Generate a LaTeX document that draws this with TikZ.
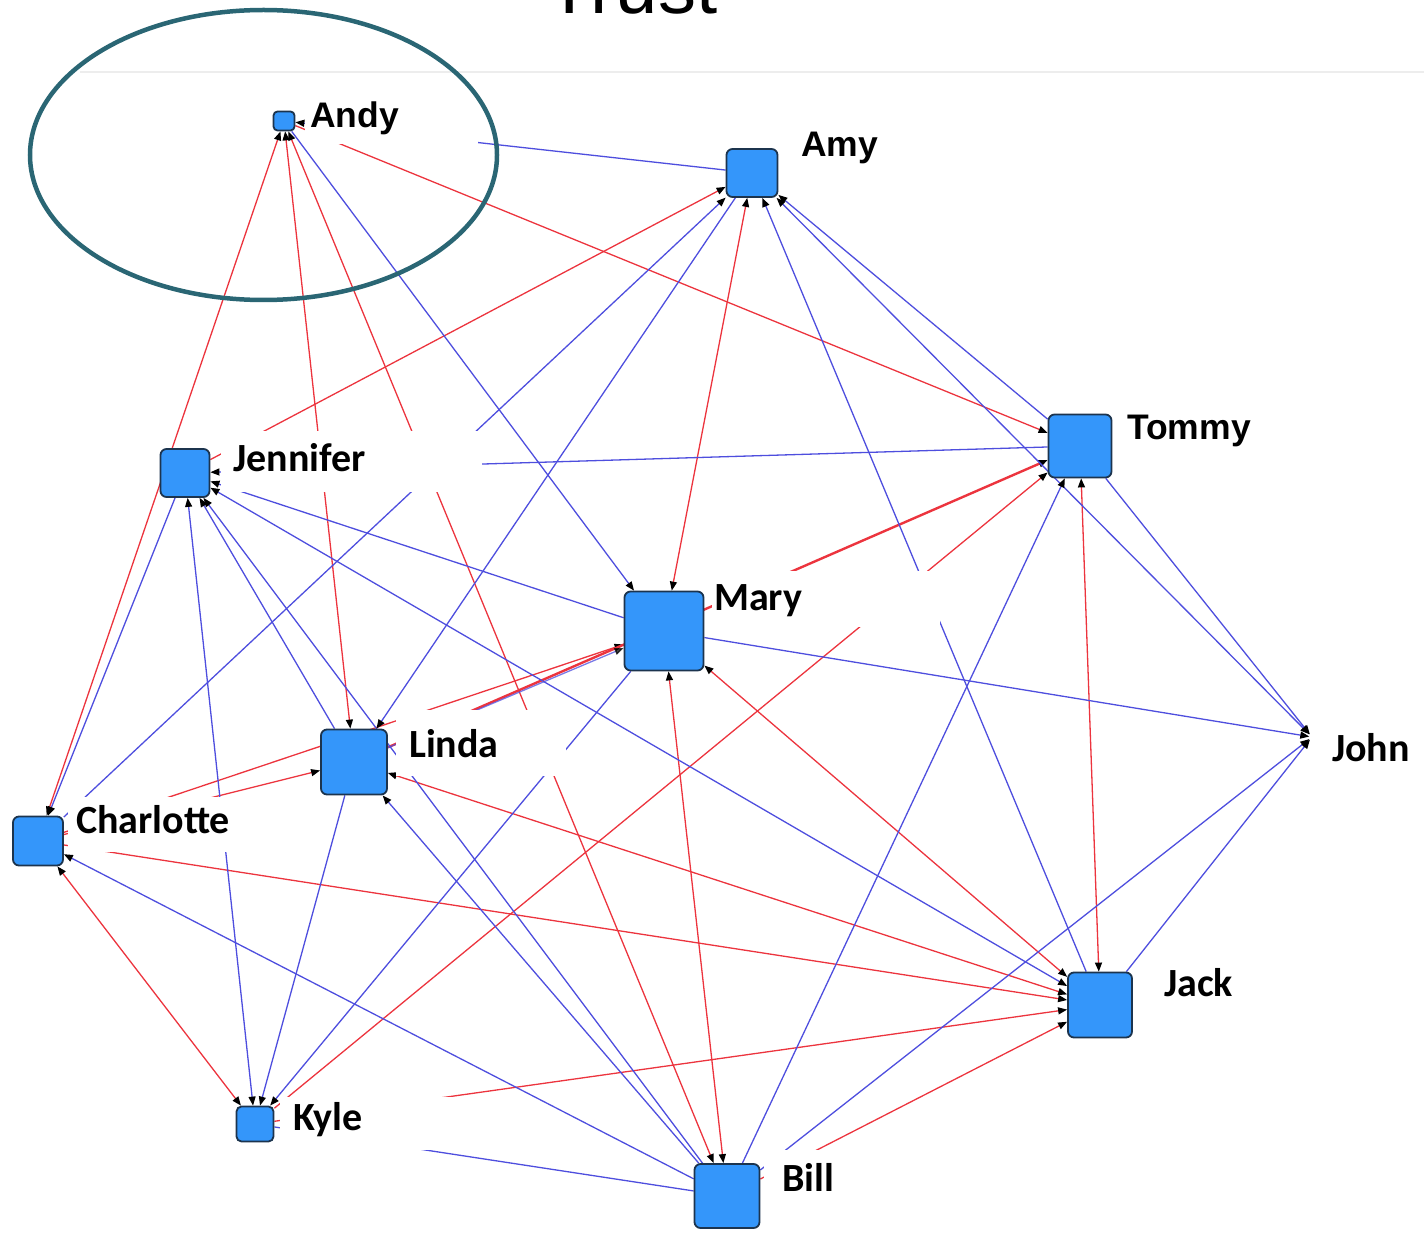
\documentclass[tikz,border=0pt]{standalone}
\usepackage{fontspec}
\setmainfont{Liberation Sans}
\newfontfamily\calibrifont{Carlito}
\usetikzlibrary{arrows.meta}

% drawing order: ties at the bottom, white label masks above them, actors and text on top
\pgfdeclarelayer{ties}
\pgfdeclarelayer{masks}
\pgfsetlayers{ties,masks,main}

\definecolor{tiered}{RGB}{236,52,62}
\definecolor{tieblue}{RGB}{78,78,222}
\definecolor{actorfill}{RGB}{52,150,250}
\definecolor{actorline}{RGB}{28,52,78}
\definecolor{ringteal}{RGB}{42,102,116}

\tikzset{
  actor/.style={draw=actorline, line width=1.8pt, fill=actorfill, rounded corners=6pt, inner sep=0pt},
  tie/.style={line width=1.3pt, >={Triangle[length=9pt,width=7pt,color=black]}},
  rtie/.style={tie, draw=tiered},
  btie/.style={tie, draw=tieblue},
  mask/.style={fill=white},
  namea/.style={font=\fontsize{35.5}{40}\selectfont\bfseries, anchor=base west, inner sep=0pt},
  nameb/.style={font=\calibrifont\fontsize{40}{46}\selectfont\bfseries, anchor=base west, inner sep=0pt},
  ring/.style={draw=ringteal, line width=4.5pt},
}

\begin{document}
\begin{tikzpicture}[x=1pt,y=-1pt]
\path[use as bounding box] (0,0) rectangle (1424,1233);
\clip (0,0) rectangle (1424,1233);

% title, only its lower part fits on the page
\node[font=\fontsize{76}{80}\selectfont, anchor=base, inner sep=0pt] (title) at (632,14) {Trust};

% actors
\node[actor, rounded corners=4pt, minimum width=21pt, minimum height=19pt] (andy) at (284,121) {};
\node[actor, minimum width=51pt, minimum height=48pt] (amy) at (752,173) {};
\node[actor, minimum width=63pt, minimum height=63pt] (tommy) at (1080,446) {};
\node[actor, minimum width=49pt, minimum height=48pt] (jennifer) at (185,473) {};
\node[actor, minimum width=79pt, minimum height=79pt] (mary) at (664,631) {};
\node[actor, minimum width=66pt, minimum height=65pt] (linda) at (354,762) {};
\node[actor, minimum width=50pt, minimum height=49pt] (charlotte) at (38,841) {};
\node[actor, rounded corners=5pt, minimum width=37pt, minimum height=35pt] (kyle) at (255,1124) {};
\node[actor, minimum width=65pt, minimum height=64pt] (bill) at (727,1196) {};
\node[actor, minimum width=64pt, minimum height=65pt] (jack) at (1100,1005) {};
\node[inner sep=0pt, minimum size=5pt] (john) at (1312,737) {};

% names
\node[namea] (andyname) at (310,128) {Andy};
\node[namea] (amyname) at (801,157) {Amy};
\node[namea] (tommyname) at (1127,439) {Tommy};
\node[nameb] (jennifername) at (233,471) {Jennifer};
\node[nameb] (maryname) at (714,610) {Mary};
\node[nameb] (lindaname) at (409,757) {Linda};
\node[nameb] (johnname) at (1332,761) {John};
\node[nameb] (charlottename) at (76,833) {Charlotte};
\node[nameb] (jackname) at (1164,996) {Jack};
\node[nameb] (kylename) at (293,1130) {Kyle};
\node[nameb] (billname) at (782,1191) {Bill};

% highlight ring
\draw[ring] (263.5,155) ellipse [x radius=233.5pt, y radius=145pt];

\begin{pgfonlayer}{ties}
  % faint frame edge at the top
  \draw[black!7, line width=1.2pt] (80,72) -- (1424,72);
  % red ties
  \draw[rtie,<->] (andy) -- (charlotte);
  \draw[rtie,<->] (andy) -- (linda);
  \draw[rtie,<->] (andy) -- (bill);
  \draw[rtie,->] (andy) -- (tommy);
  \draw[rtie,->] (jennifer) -- (amy);
  \draw[rtie,->] (charlotte) -- (linda);
  \draw[rtie,->] (charlotte) -- (mary);
  \draw[rtie,->] (charlotte) -- (jack);
  \draw[rtie,<->] (charlotte) -- (kyle);
  \draw[rtie,->] (kyle) -- (tommy);
  \draw[rtie,->] (kyle) -- (jack);
  \draw[rtie,<->] (linda) -- (jack);
  \draw[rtie,->,line width=2.4pt] (linda) -- (tommy);
  \draw[rtie,<->] (amy) -- (mary);
  \draw[rtie,<->] (mary) -- (bill);
  \draw[rtie,<->] (mary) -- (jack);
  \draw[rtie,->] (bill) -- (jack);
  \draw[rtie,<->] (tommy) -- (jack);
  % blue ties
  \draw[btie,->] (andy) -- (mary);
  \draw[btie,<-] (andy) -- (amy);
  \draw[btie,<-] (jennifer) -- (tommy);
  \draw[btie,<-] (jennifer) -- (mary);
  \draw[btie,<->] (jennifer) -- (jack);
  \draw[btie,<-] (jennifer) -- (linda);
  \draw[btie,<-] (jennifer) -- (bill);
  \draw[btie,->] (jennifer) -- (charlotte);
  \draw[btie,<->] (jennifer) -- (kyle);
  \draw[btie,<-] (amy) -- (charlotte);
  \draw[btie,->] (amy) -- (linda);
  \draw[btie,<-] (amy) -- (tommy);
  \draw[btie,<->] (amy) -- (john);
  \draw[btie,<-] (amy) -- (jack);
  \draw[btie,<-] (charlotte) -- (bill);
  \draw[btie,<-] (kyle) -- (linda);
  \draw[btie,<-] (kyle) -- (mary);
  \draw[btie] (kyle) -- (bill);
  \draw[btie,<-] (linda) -- (bill);
  \draw[btie,->,opacity=0.75] (linda) -- (mary);
  \draw[btie,->] (mary) -- (john);
  \draw[btie,->] (bill) -- (tommy);
  \draw[btie,->] (bill) -- (john);
  \draw[btie,->] (tommy) -- (john);
  \draw[btie,->] (jack) -- (john);
\end{pgfonlayer}

\begin{pgfonlayer}{masks}
  % white label backgrounds that hide the ties running under the names
  \fill[mask] (305,98) rectangle (478,144);
  \fill[mask] (221,431) rectangle (482,492);
  \fill[mask] (712,571) rectangle (940,627);
  \fill[mask] (396,710) rectangle (566,776);
  \fill[mask] (68,797) rectangle (236,852);
  \fill[mask] (280,1097) rectangle (455,1150);
  \fill[mask] (764,1150) rectangle (835,1215);
\end{pgfonlayer}
\end{tikzpicture}
\end{document}
